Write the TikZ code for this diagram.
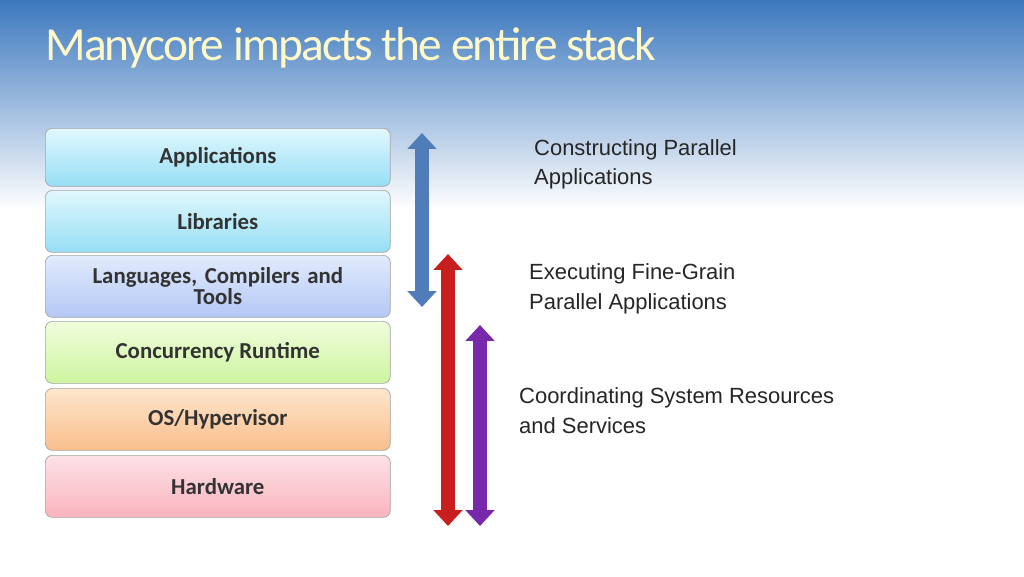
\documentclass[tikz,border=0pt]{standalone}
\usepackage{fontspec}
\setmainfont{Liberation Sans}
\newfontfamily\calfont{Carlito}
\usetikzlibrary{arrows.meta,shadows}
\definecolor{skytop}{RGB}{60,120,190}
\definecolor{titlecol}{RGB}{255,248,200}
\definecolor{cyanA}{RGB}{225,248,253}\definecolor{cyanB}{RGB}{150,222,245}
\definecolor{lavA}{RGB}{225,235,253}\definecolor{lavB}{RGB}{180,200,245}
\definecolor{grnA}{RGB}{240,253,220}\definecolor{grnB}{RGB}{205,245,160}
\definecolor{orgA}{RGB}{253,230,205}\definecolor{orgB}{RGB}{250,190,140}
\definecolor{pnkA}{RGB}{253,225,230}\definecolor{pnkB}{RGB}{250,180,190}
\definecolor{barblue}{RGB}{80,125,185}
\definecolor{barred}{RGB}{200,30,30}
\definecolor{barpurple}{RGB}{120,40,170}
\begin{document}
\begin{tikzpicture}[x=0.02cm,y=-0.02cm,
  layer/.style={draw=black!35,rounded corners=4pt,minimum width=6.9cm,minimum height=1.24cm,anchor=north west,font=\calfont\fontsize{13}{14}\selectfont\bfseries,text=black!80,align=center,inner sep=1pt},
  lbl/.style={anchor=north west,align=left,font=\fontsize{12.5}{17}\selectfont,text=black!85},
  bar/.style={line width=8pt,{Triangle[width=16pt,length=9pt]}-{Triangle[width=16pt,length=9pt]}}]
\useasboundingbox (0,0) rectangle (1024,576);
\fill[white] (0,0) rectangle (1024,576);
\shade[top color=skytop,bottom color=white] (0,0) rectangle (1024,210);
\node[anchor=west,font=\calfont\fontsize{27}{30}\selectfont,text=titlecol,inner sep=0] (title) at (45,48) {\addfontfeature{LetterSpace=-4}Manycore impacts the entire stack};
\node[layer,top color=cyanA,bottom color=cyanB,minimum height=1.16cm] (app) at (45,128) {Applications};
\node[layer,top color=cyanA,bottom color=cyanB] (lib) at (45,190) {Libraries};
\node[layer,top color=lavA,bottom color=lavB,text width=6.4cm] (lang) at (45,255) {Languages, Compilers and\\[-2pt]Tools};
\node[layer,top color=grnA,bottom color=grnB] (conc) at (45,321) {Concurrency Runtime};
\node[layer,top color=orgA,bottom color=orgB] (os) at (45,388) {OS/Hypervisor};
\node[layer,top color=pnkA,bottom color=pnkB] (hw) at (45,455) {Hardware};
\coordinate (b1) at (422,133); \coordinate (b2) at (422,307);
\coordinate (r1) at (448,254); \coordinate (r2) at (448,526);
\coordinate (p1) at (480,325); \coordinate (p2) at (480,526);
\draw[bar,barblue] (b1) -- (b2);
\draw[bar,barred] (r1) -- (r2);
\draw[bar,barpurple] (p1) -- (p2);
\node[lbl] (l1) at (528,133) {Constructing Parallel\\Applications};
\node[lbl] (l2) at (523,257) {Executing Fine-Grain\\Parallel Applications};
\node[lbl] (l3) at (513,381) {Coordinating System Resources\\and Services};
\end{tikzpicture}
\end{document}
